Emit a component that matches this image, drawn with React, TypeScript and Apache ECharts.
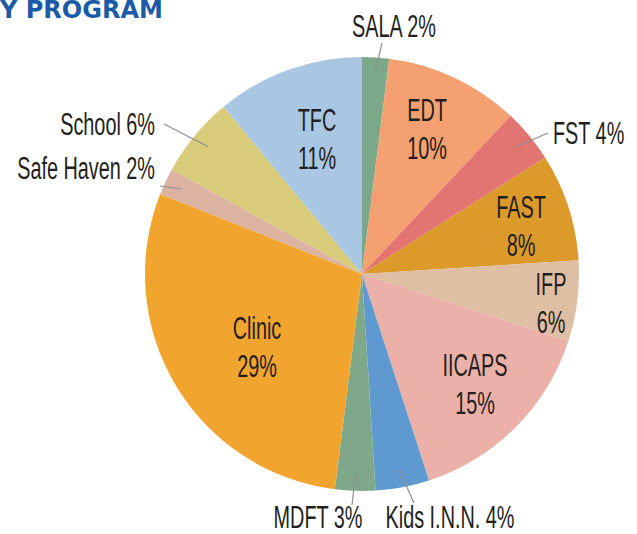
import React, { useEffect, useRef } from "react";
import * as echarts from "echarts";

// ---- data ----
const categories = ["SALA", "EDT", "FST", "FAST", "IFP", "IICAPS", "Kids I.N.N.", "MDFT", "Clinic", "Safe Haven", "School", "TFC"];
const shares = [2, 10, 4, 8, 6, 15, 4, 3, 29, 2, 6, 11];
const sliceColors = ["#7aa889", "#f5a070", "#e27572", "#db9a2a", "#dfbfa3", "#ebb0a8", "#5e9ad0", "#7fa88a", "#f2a52e", "#dcb3a0", "#d8cb7a", "#a9c6e3"];
const insideLabelled = ["EDT", "FAST", "IFP", "IICAPS", "Clinic", "TFC"];
const titleText = "Y PROGRAM";

// ---- layout ----
const CX = 362;
const CY = 274;
const R = 217;
const FONT_FAMILY = "'Liberation Sans', Arial, sans-serif";
const FONT_SIZE = 31;
const SCALE_X = 0.64;

const labelAnchors: Record<string, { x: number; y: number; align: string }> = {
  SALA: { x: 394, y: 26, align: "center" },
  EDT: { x: 427, y: 129, align: "center" },
  FST: { x: 553, y: 133, align: "left" },
  FAST: { x: 521, y: 226, align: "center" },
  IFP: { x: 551, y: 303, align: "center" },
  IICAPS: { x: 475, y: 384, align: "center" },
  "Kids I.N.N.": { x: 450, y: 517, align: "center" },
  MDFT: { x: 318, y: 517, align: "center" },
  Clinic: { x: 257, y: 347, align: "center" },
  "Safe Haven": { x: 155, y: 168, align: "right" },
  School: { x: 155, y: 124, align: "right" },
  TFC: { x: 317, y: 139, align: "center" },
};

const lineEnds: Record<string, [number, number]> = {
  SALA: [382, 43],
  FST: [548, 133],
  "Kids I.N.N.": [414, 503],
  MDFT: [352, 505],
  "Safe Haven": [160, 186],
  School: [164, 124],
};

function midPoint(idx: number, rFactor: number): [number, number] {
  const total = shares.reduce((a, b) => a + b, 0);
  let cum = 0;
  for (let i = 0; i < idx; i++) cum += shares[i];
  const theta = ((cum + shares[idx] / 2) / total) * Math.PI * 2;
  return [CX + Math.sin(theta) * R * rFactor, CY - Math.cos(theta) * R * rFactor];
}

export default function App() {
  const ref = useRef<HTMLDivElement>(null);
  useEffect(() => {
    if (!ref.current) return;
    const chart = echarts.init(ref.current, undefined, { renderer: "svg" });
    const data = categories.map((name, i) => ({
      name,
      value: shares[i],
      itemStyle: { color: sliceColors[i] },
    }));

    const labelGraphics: any[] = [];
    categories.forEach((name, i) => {
      const inside = insideLabelled.includes(name);
      const a = labelAnchors[name];
      const end = lineEnds[name];
      if (end) {
        const start = midPoint(i, 0.92);
        labelGraphics.push({
          type: "line",
          silent: true,
          shape: { x1: start[0], y1: start[1], x2: end[0], y2: end[1] },
          style: { stroke: "#8a8f95", lineWidth: 1.2 },
          z: 10,
        });
      }
      labelGraphics.push({
        type: "text",
        silent: true,
        x: a.x,
        y: a.y,
        scaleX: SCALE_X,
        z: 11,
        style: {
          text: inside ? `${name}\n${shares[i]}%` : `${name} ${shares[i]}%`,
          fontFamily: FONT_FAMILY,
          fontSize: FONT_SIZE,
          lineHeight: inside ? 38 : 30,
          fill: "#231f20",
          align: a.align,
          verticalAlign: "middle",
        },
      });
    });

    chart.setOption({
      animation: false,
      backgroundColor: "#ffffff",
      graphic: [
        {
          type: "text",
          x: 0,
          y: 0,
          style: {
            text: titleText,
            fontFamily: "'DejaVu Sans', sans-serif",
            fontWeight: "bold",
            fontSize: 24,
            lineHeight: 19,
            fill: "#1b5aa6",
          },
        },
        ...labelGraphics,
      ],
      series: [
        {
          type: "pie",
          silent: true,
          center: [CX, CY],
          radius: R,
          startAngle: 90,
          clockwise: true,
          emphasis: { disabled: true },
          itemStyle: { borderWidth: 0 },
          label: { show: false },
          labelLine: { show: false },
          data,
        },
      ],
    });
    return () => chart.dispose();
  }, []);
  return <div ref={ref} style={{ position: "absolute", left: 0, top: 0, width: 637, height: 534 }} />;
}
